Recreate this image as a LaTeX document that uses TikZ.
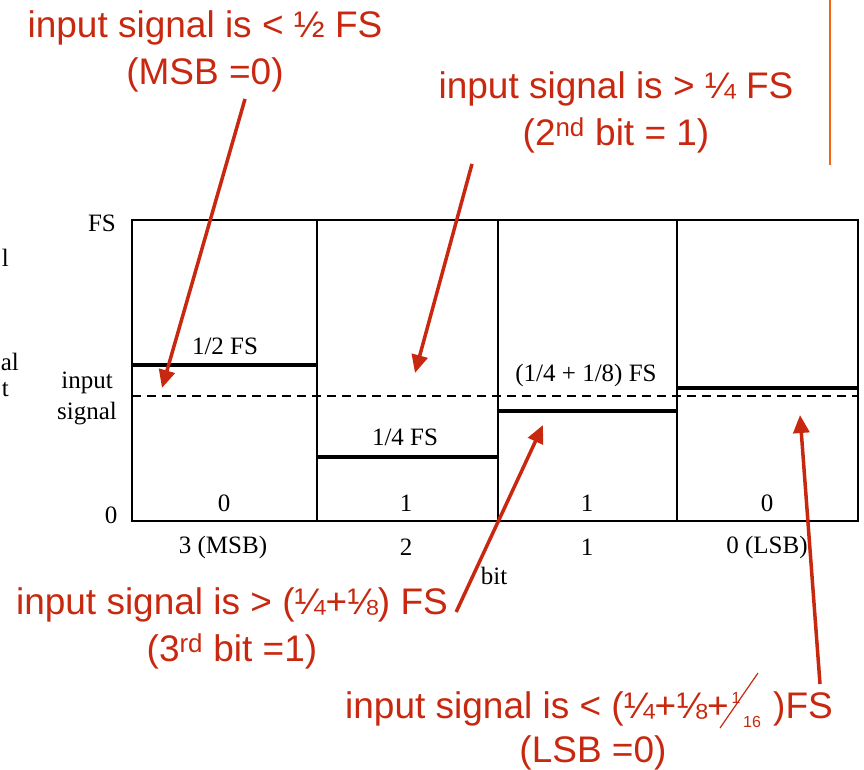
\documentclass[tikz,border=0pt]{standalone}
\usepackage{fontspec}
\setmainfont{Liberation Serif}
\newfontfamily\slidefont{Liberation Sans}
\usetikzlibrary{arrows.meta}
\definecolor{slidered}{RGB}{200,40,15}
\definecolor{slideorange}{RGB}{240,100,20}
\tikzset{
  note/.style={color=slidered, font=\slidefont\fontsize{37}{47}\selectfont, inner sep=0pt},
  notesmall/.style={color=slidered, font=\slidefont\fontsize{16}{16}\selectfont, inner sep=0pt},
  scan/.style={font=\fontsize{25}{31}\selectfont, inner sep=0pt},
  pointer/.style={color=slidered, line width=3.5pt, -{Triangle[length=18pt,width=16pt]}},
  level/.style={line width=3.5pt},
}
\begin{document}
\begin{tikzpicture}[x=1pt,y=-1pt]
    \useasboundingbox (0,0) rectangle (864,769);
    \draw[slideorange, line width=2pt] (830,0) -- (830,165);
    % frame of the four bit trials
    \draw[line width=2pt] (132,220) rectangle (858,521);
    \foreach \x in {317,498,677} \draw[line width=1.6pt] (\x,220) -- (\x,521);
    \draw[level] (132,365) -- (317,365);
    \draw[level] (317,457) -- (498,457);
    \draw[level] (498,411) -- (677,411);
    \draw[level] (677,388) -- (858,388);
    \draw[line width=1.3pt, dash pattern=on 9pt off 6pt] (132,396) -- (858,396);
    % scanned labels
    \node[scan, anchor=east] (cutA) at (9,258) {l};
    \node[scan, anchor=east] (cutB) at (19,362) {al};
    \node[scan, anchor=east] (cutC) at (9,390) {t};
    \node[scan] (fsTop) at (102,223) {FS};
    \node[scan, align=center] (inSig) at (87,398) {input\\signal};
    \node[scan] (zeroLeft) at (111,515) {0};
    \node[scan] (halfFs) at (225,346) {1/2 FS};
    \node[scan] (quarterFs) at (405,437) {1/4 FS};
    \node[scan] (threeEighthFs) at (586,375) {(1/4 + 1/8) FS};
    \node[scan] (valThree) at (224,503) {0};
    \node[scan] (valTwo) at (406,503) {1};
    \node[scan] (valOne) at (587,503) {1};
    \node[scan] (valZero) at (767,503) {0};
    \node[scan] (bitThree) at (223,547) {3 (MSB)};
    \node[scan] (bitTwo) at (406,547) {2};
    \node[scan] (bitOne) at (587,547) {1};
    \node[scan] (bitZero) at (767,547) {0 (LSB)};
    \node[scan] (bitAxis) at (494,576) {bit};
    % slide notes
    \node[note, align=center] (msbNote) at (205,51) {input signal is < ½ FS\\(MSB =0)};
    \node[note, align=center] (secondNote) at (616,112) {input signal is > ¼ FS\\(2\textsuperscript{nd} bit = 1)};
    \node[note, align=center] (thirdNote) at (232,628) {input signal is > (¼+⅛) FS\\(3\textsuperscript{rd} bit =1)};
    \node[note, anchor=base west] (lsbA) at (345,718) {input signal is < (¼+⅛+};
    \node[notesmall] (lsbNum) at (736,698) {1};
    \node[notesmall] (lsbDen) at (752,722) {16};
    \draw[slidered, line width=1.2pt] (720,728) -- (758,673);
    \node[note, anchor=base west] (lsbC) at (773,718) {)FS};
    \node[note, anchor=base] (lsbD) at (593,762) {(LSB =0)};
    % arrow tips
    \coordinate (tipMsb) at (162,388);
    \coordinate (tipSecond) at (415,373);
    \coordinate (tipThird) at (543,425);
    \coordinate (tipLsb) at (800,415);
    \draw[pointer] ([shift={(40,7)}]msbNote.south) -- (tipMsb);
    \draw[pointer] ([shift={(-144,11)}]secondNote.south) -- (tipSecond);
    \draw[pointer] ([shift={(8,-16)}]thirdNote.east) -- (tipThird);
    \draw[pointer] ([shift={(17,-7)}]lsbC.north) -- (tipLsb);
\end{tikzpicture}
\end{document}
